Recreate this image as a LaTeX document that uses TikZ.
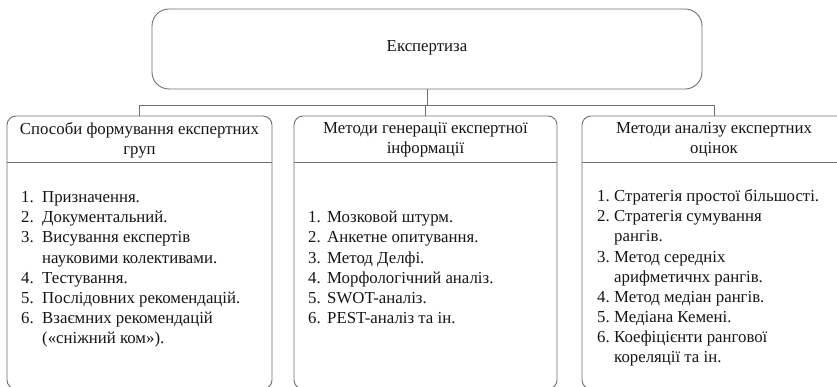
\documentclass[tikz,border=0pt]{standalone}
\usepackage{fontspec}
\setmainfont{Liberation Serif}
\begin{document}
\begin{tikzpicture}[x=1pt,y=-1pt,
  edge/.style={draw=edgegray, line width=0.9pt},
  topbox/.style={edge, rounded corners=17pt, minimum width=550pt, minimum height=80pt, inner sep=0pt},
  lowbox/.style={edge, rounded corners=9pt, minimum height=273pt, inner sep=0pt},
  txt/.style={inner sep=0pt, text=inkc, font=\fontsize{16.8}{20}\selectfont},
  head/.style={txt, align=center},
  ln/.style={txt, anchor=base west},
]
\definecolor{edgegray}{HTML}{707070}
\definecolor{inkc}{HTML}{151515}
\useasboundingbox (0,0) rectangle (837,387);
\clip (0,0) rectangle (837,387);

% root
\node[topbox] (root) at (427,49) {};
\node[txt] (roottext) at (427,48) {Експертиза};

% three lower boxes
\node[lowbox, minimum width=265pt] (b1) at (139.5,252.5) {};
\node[lowbox, minimum width=263pt] (b2) at (425.5,252.5) {};
\node[lowbox, minimum width=264pt] (b3) at (714,252.5) {};

% header separators
\foreach \b in {b1,b2,b3}
  \draw[edge] (\b.west |- 0,162) -- (\b.east |- 0,162);

% connectors
\coordinate (bar) at (426,105);
\draw[edge] (root.south) -- (root.south |- bar);
\draw[edge] (b1.north) -- (b1.north |- bar) -- (b3.north |- bar) -- (b3.north);
\draw[edge] (b2.north) -- (b2.north |- bar);

% headers
\node[head] (h1) at (139.5,140) {Способи формування експертних\\груп};
\node[head] (h2) at (425.5,140) {Методи генерації експертної\\інформації};
\node[head] (h3) at (714,140) {Методи аналізу експертних\\оцінок};

% list of the first box
\foreach \n/\t [count=\k] in {1./Призначення., 2./Документальний., 3./Висування експертів, /науковими колективами., 4./Тестування., 5./Послідовних рекомендацій., 6./Взаємних рекомендацій, /(«сніжний ком»).}{
  \node[ln] (an\k) at (21,{203+20*(\k-1)}) {\n};
  \node[ln] (at\k) at (42,{203+20*(\k-1)}) {\t};
}
% list of the second box
\foreach \n/\t [count=\k] in {1./Мозковой штурм., 2./Анкетне опитування., 3./Метод Делфі., 4./Морфологічний аналіз., 5./SWOT-аналіз., 6./PEST-аналіз та ін.}{
  \node[ln] (bn\k) at (308,{223+20*(\k-1)}) {\n};
  \node[ln] (bt\k) at (327,{223+20*(\k-1)}) {\t};
}
% list of the third box
\foreach \n/\t [count=\k] in {1./Стратегія простої більшості., 2./Стратегія сумування, /рангів., 3./Метод середніх, /арифметичнх рангів., 4./Метод медіан рангів., 5./Медіана Кемені., 6./Коефіцієнти  рангової, /кореляції та ін.}{
  \node[ln] (cn\k) at (597,{202+20*(\k-1)}) {\n};
  \node[ln] (ct\k) at (614,{202+20*(\k-1)}) {\t};
}
\end{tikzpicture}
\end{document}
